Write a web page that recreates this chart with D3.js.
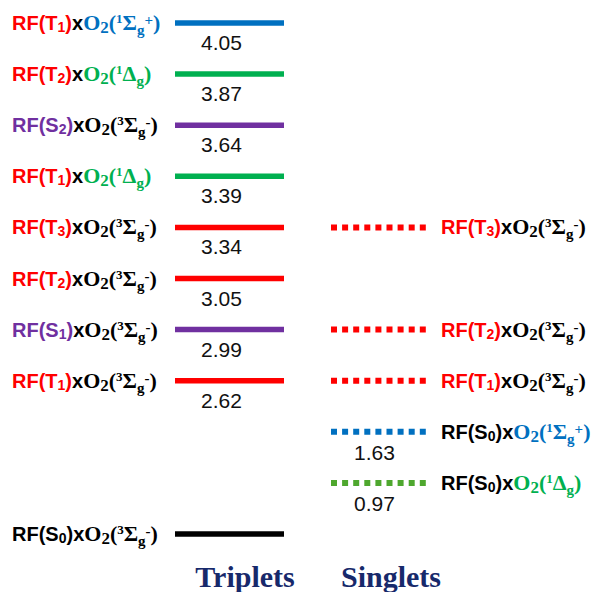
<!DOCTYPE html>
<html>
<head>
<meta charset="utf-8">
<script src="https://cdn.jsdelivr.net/npm/d3@7/dist/d3.min.js"></script>
<style>
  html, body { margin: 0; padding: 0; background: #ffffff; }
  svg { display: block; }
</style>
</head>
<body>
<svg id="chart" width="595" height="592"></svg>
<script>
// ---------------- data ----------------
const columns = ["Triplets", "Singlets"];

// Triplet manifold (left column), top to bottom
const tripletStates = ["T1", "T2", "S2", "T1", "T3", "T2", "S1", "T1", "S0"];
const tripletO2     = ["1Σg+", "1Δg", "3Σg-", "1Δg", "3Σg-", "3Σg-", "3Σg-", "3Σg-", "3Σg-"];
const tripletEnergy = [4.05, 3.87, 3.64, 3.39, 3.34, 3.05, 2.99, 2.62, null];
const tripletRow    = [0, 1, 2, 3, 4, 5, 6, 7, 10];

// Singlet manifold (right column), top to bottom
const singletStates = ["T3", "T2", "T1", "S0", "S0"];
const singletO2     = ["3Σg-", "3Σg-", "3Σg-", "1Σg+", "1Δg"];
const singletEnergy = [null, null, null, 1.63, 0.97];
const singletRow    = [4, 6, 7, 8, 9];

const rowCount = 11;

// ---------------- styles ----------------
const RED = "#ff0000", PURPLE = "#7030a0", BLACK = "#000000",
      BLUE = "#0070c0", GREEN = "#00b050", DOTGREEN = "#4ea72e";
const SANS = "'Liberation Sans', Arial, sans-serif";
const SERIF = "'Liberation Serif', 'Times New Roman', serif";

function stateColor(s) {
  if (s === "S0") return BLACK;
  if (s[0] === "S") return PURPLE;
  return RED;
}
function o2Color(o) {
  if (o.startsWith("1Σ")) return BLUE;
  if (o.startsWith("1Δ")) return GREEN;
  return BLACK;
}
function lineColor(s, o, dotted) {
  const c = o2Color(o);
  if (c === GREEN && dotted) return DOTGREEN;
  if (c !== BLACK) return c;
  return stateColor(s);
}

// ---------------- scales ----------------
const svg = d3.select("#chart");
const y = d3.scaleLinear().domain([0, rowCount - 1]).range([23, 534]);
const x = d3.scaleOrdinal().domain(columns).range([[175, 284], [331, 426]]);

// ---------------- label builder ----------------
function buildLabel(textSel, s, o) {
  const cs = stateColor(s), co = o2Color(o);
  const add = (t, font, size, color, dy) => {
    const ts = textSel.append("tspan")
      .attr("font-family", font).attr("font-size", size)
      .attr("font-weight", "bold").attr("fill", color).text(t);
    if (dy) ts.attr("dy", dy);
  };
  add("RF(" + s[0], SANS, 20, cs, 0);
  add(s[1], SANS, 14, cs, 2);
  add(")", SANS, 20, cs, -2);
  add("x", SANS, 20, BLACK, 0);
  add("O", SERIF, 22, co, 0);
  add("2", SERIF, 17, co, 3);
  add("(", SERIF, 22, co, -3);
  add(o[0], SERIF, 13, co, -7);
  add(o[1], SERIF, 22, co, 7);
  add(o[2], SERIF, 15, co, 5);
  if (o.length > 3) {
    add(o[3], SERIF, 15, co, -10);
    add(")", SERIF, 22, co, 5);
  } else {
    add(")", SERIF, 22, co, -5);
  }
}

// ---------------- triplets ----------------
const trip = tripletStates.map((s, i) => ({ s, o: tripletO2[i], e: tripletEnergy[i], r: tripletRow[i] }));
const [tx0, tx1] = x("Triplets");

const tg = svg.append("g");
tg.selectAll("line.lev").data(trip).join("line")
  .attr("class", "lev")
  .attr("x1", tx0).attr("x2", tx1)
  .attr("y1", d => y(d.r)).attr("y2", d => y(d.r))
  .attr("stroke", d => lineColor(d.s, d.o, false))
  .attr("stroke-width", 5.5);

tg.selectAll("text.val").data(trip.filter(d => d.e !== null)).join("text")
  .attr("class", "val")
  .attr("x", (tx0 + tx1) / 2 - 8)
  .attr("y", d => y(d.r) + 27)
  .attr("text-anchor", "middle")
  .attr("font-family", SANS).attr("font-size", 21).attr("fill", "#111")
  .text(d => d3.format(".2f")(d.e));

tg.selectAll("text.lab").data(trip).join("text")
  .attr("class", "lab")
  .attr("x", 12)
  .attr("y", d => y(d.r) + 7)
  .each(function (d) { buildLabel(d3.select(this), d.s, d.o); });

// ---------------- singlets ----------------
const sing = singletStates.map((s, i) => ({ s, o: singletO2[i], e: singletEnergy[i], r: singletRow[i] }));
const [sx0, sx1] = x("Singlets");

const sg = svg.append("g");
sg.selectAll("line.lev").data(sing).join("line")
  .attr("class", "lev")
  .attr("x1", sx0).attr("x2", sx1)
  .attr("y1", d => y(d.r)).attr("y2", d => y(d.r))
  .attr("stroke", d => lineColor(d.s, d.o, true))
  .attr("stroke-width", 6)
  .attr("stroke-dasharray", "6,5.1");

sg.selectAll("text.val").data(sing.filter(d => d.e !== null)).join("text")
  .attr("class", "val")
  .attr("x", (sx0 + sx1) / 2 - 4)
  .attr("y", d => y(d.r) + 28)
  .attr("text-anchor", "middle")
  .attr("font-family", SANS).attr("font-size", 21).attr("fill", "#111")
  .text(d => d3.format(".2f")(d.e));

sg.selectAll("text.lab").data(sing).join("text")
  .attr("class", "lab")
  .attr("x", 441)
  .attr("y", d => y(d.r) + 7)
  .each(function (d) { buildLabel(d3.select(this), d.s, d.o); });

// ---------------- column titles ----------------
svg.selectAll("text.col").data(columns).join("text")
  .attr("class", "col")
  .attr("x", (d, i) => [245, 391][i])
  .attr("y", 587)
  .attr("text-anchor", "middle")
  .attr("font-family", SERIF).attr("font-weight", "bold")
  .attr("font-size", 30).attr("fill", "#17296b")
  .text(d => d);
</script>
</body>
</html>
